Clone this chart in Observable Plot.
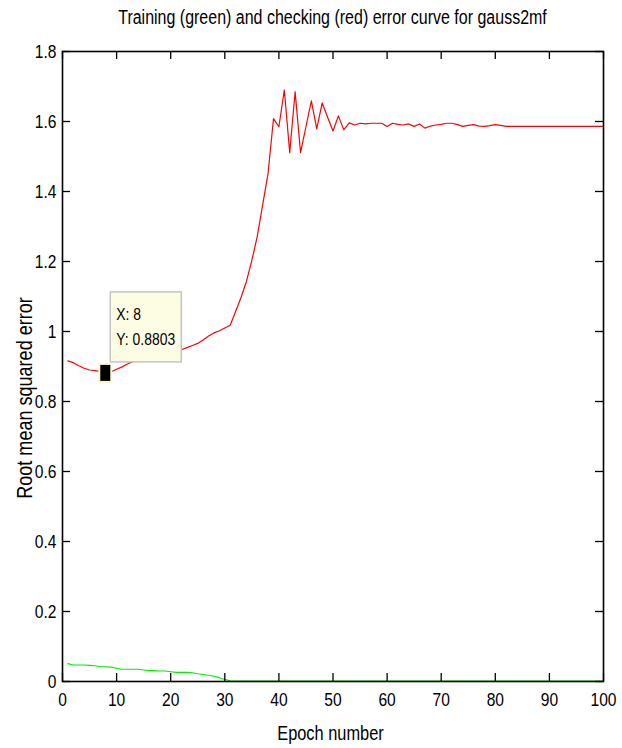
<!DOCTYPE html>
<html>
<head>
<meta charset="utf-8">
<script src="https://cdn.jsdelivr.net/npm/d3@7"></script>
<script src="https://cdn.jsdelivr.net/npm/@observablehq/plot@0.6"></script>
<style>
  html, body { margin: 0; padding: 0; background: white; }
  #chart svg { display: block; }
</style>
</head>
<body>
<div id="chart"></div>
<script>
const titleText = "Training (green) and checking (red) error curve for gauss2mf";
const xLabel = "Epoch number";
const yLabel = "Root mean squared error";

const checkErr = [
  0.916, 0.911, 0.902, 0.895, 0.890, 0.888, 0.885, 0.8803, 0.885, 0.892,
  0.899, 0.907, 0.914, 0.919, 0.923, 0.927, 0.932, 0.938, 0.941, 0.943,
  0.945, 0.948, 0.954, 0.960, 0.966, 0.976, 0.987, 0.996, 1.002, 1.010,
  1.018, 1.057, 1.097, 1.143, 1.203, 1.272, 1.362, 1.452, 1.608, 1.585,
  1.690, 1.511, 1.685, 1.511, 1.585, 1.659, 1.579, 1.653, 1.612, 1.573,
  1.616, 1.576, 1.596, 1.590, 1.595, 1.593, 1.595, 1.595, 1.595, 1.586,
  1.595, 1.592, 1.590, 1.593, 1.586, 1.593, 1.581, 1.587, 1.590, 1.592,
  1.595, 1.595, 1.591, 1.586, 1.589, 1.591, 1.587, 1.586, 1.588, 1.591,
  1.589, 1.586, 1.586, 1.586, 1.586, 1.586, 1.586, 1.586, 1.586, 1.586,
  1.586, 1.586, 1.586, 1.586, 1.586, 1.586, 1.586, 1.586, 1.586, 1.586
];

const trainErr = [
  0.051, 0.047, 0.047, 0.047, 0.046, 0.045, 0.042, 0.042, 0.041, 0.038,
  0.035, 0.035, 0.035, 0.035, 0.033, 0.031, 0.031, 0.030, 0.030, 0.028,
  0.026, 0.026, 0.026, 0.025, 0.022, 0.020, 0.018, 0.015, 0.011, 0.006,
  0.002, 0.0015, 0.0015, 0.0015, 0.0015, 0.0015, 0.0015, 0.0015, 0.0015, 0.0015,
  0.0015, 0.0015, 0.0015, 0.0015, 0.0015, 0.0015, 0.0015, 0.0015, 0.0015, 0.0015,
  0.0015, 0.0015, 0.0015, 0.0015, 0.0015, 0.0015, 0.0015, 0.0015, 0.0015, 0.0015,
  0.0015, 0.0015, 0.0015, 0.0015, 0.0015, 0.0015, 0.0015, 0.0015, 0.0015, 0.0015,
  0.0015, 0.0015, 0.0015, 0.0015, 0.0015, 0.0015, 0.0015, 0.0015, 0.0015, 0.0015,
  0.0015, 0.0015, 0.0015, 0.0015, 0.0015, 0.0015, 0.0015, 0.0015, 0.0015, 0.0015,
  0.0015, 0.0015, 0.0015, 0.0015, 0.0015, 0.0015, 0.0015, 0.0015, 0.0015, 0.0015
];

const xTicks = [0, 10, 20, 30, 40, 50, 60, 70, 80, 90, 100];
const yTicks = [0, 0.2, 0.4, 0.6, 0.8, 1, 1.2, 1.4, 1.6, 1.8];
const yTickLabels = ["0", "0.2", "0.4", "0.6", "0.8", "1", "1.2", "1.4", "1.6", "1.8"];

const tipEpoch = 8;
const tipValue = 0.8803;
const tipLines = ["X: 8", "Y: 0.8803"];

const data = checkErr.map((c, i) => ({epoch: i + 1, check: c, train: trainErr[i]}));

const W = 622, H = 748;
const mL = 62, mR = 19, mT = 51, mB = 67;
const plotW = W - mL - mR, plotH = H - mT - mB;
const FONT = "'Liberation Sans', Arial, sans-serif";
const COND = 0.82;

const plot = Plot.plot({
  width: W,
  height: H,
  marginLeft: mL,
  marginRight: mR,
  marginTop: mT,
  marginBottom: mB,
  x: {domain: [0, 100]},
  y: {domain: [0, 1.8]},
  style: {fontFamily: FONT, fontSize: "19px", background: "white", color: "black"},
  marks: [
    Plot.line(data, {x: "epoch", y: "train", stroke: "#00ee00", strokeWidth: 1.1}),
    Plot.line(data, {x: "epoch", y: "check", stroke: "#ff0000", strokeWidth: 1.2}),
    Plot.tickX(xTicks, {x: d => d, insetTop: plotH - 8, stroke: "black", strokeWidth: 1.3}),
    Plot.tickX(xTicks, {x: d => d, insetBottom: plotH - 8, stroke: "black", strokeWidth: 1.3}),
    Plot.tickY(yTicks, {y: d => d, insetRight: plotW - 8, stroke: "black", strokeWidth: 1.3}),
    Plot.tickY(yTicks, {y: d => d, insetLeft: plotW - 8, stroke: "black", strokeWidth: 1.3}),
    Plot.frame({stroke: "black", strokeWidth: 1.6}),
    Plot.axisX(xTicks, {tickSize: 0, tickPadding: 11, label: null, fontSize: 19}),
    Plot.axisY(yTicks, {tickSize: 0, tickPadding: 6, label: null, fontSize: 19,
      tickFormat: d => yTickLabels[yTicks.indexOf(d)]})
  ]
});

document.getElementById("chart").appendChild(plot);

const svg = d3.select(plot);

// condense Plot's tick labels horizontally (narrow, tall glyphs as in the reference)
svg.selectAll("text").each(function () {
  const len = this.getComputedTextLength();
  if (len > 0) {
    this.setAttribute("textLength", (len * COND).toFixed(2));
    this.setAttribute("lengthAdjust", "spacingAndGlyphs");
  }
});

const xs = plot.scale("x"), ys = plot.scale("y");
const cx = (xs.apply(0) + xs.apply(100)) / 2;

svg.append("text")
  .attr("transform", `translate(${cx}, 24) scale(${COND}, 1)`)
  .attr("text-anchor", "middle")
  .attr("font-family", FONT).attr("font-size", 19.5)
  .attr("fill", "black")
  .text(titleText);

svg.append("text")
  .attr("transform", `translate(${cx - 2}, 740) scale(${COND}, 1)`)
  .attr("text-anchor", "middle")
  .attr("font-family", FONT).attr("font-size", 20)
  .attr("fill", "black")
  .text(xLabel);

svg.append("text")
  .attr("transform", `translate(32, 398) rotate(-90) scale(${COND}, 1)`)
  .attr("text-anchor", "middle")
  .attr("font-family", FONT).attr("font-size", 22)
  .attr("fill", "black")
  .text(yLabel);

// datatip
const px = xs.apply(tipEpoch), py = ys.apply(tipValue);
const tip = svg.append("g");
tip.append("rect")
  .attr("x", px + 5).attr("y", py - 81)
  .attr("width", 71).attr("height", 70)
  .attr("fill", "#fdfde4").attr("stroke", "#c4c4c4").attr("stroke-width", 1.5);
tipLines.forEach((t, i) => {
  tip.append("text")
    .attr("transform", `translate(${px + 11}, ${py - 53 + i * 25}) scale(${COND}, 1)`)
    .attr("text-anchor", "start")
    .attr("font-family", FONT).attr("font-size", 17)
    .attr("fill", "black")
    .text(t);
});
tip.append("rect")
  .attr("x", px - 6).attr("y", py - 9)
  .attr("width", 12).attr("height", 18)
  .attr("fill", "black").attr("stroke", "#fdfbcc").attr("stroke-width", 2);
</script>
</body>
</html>
